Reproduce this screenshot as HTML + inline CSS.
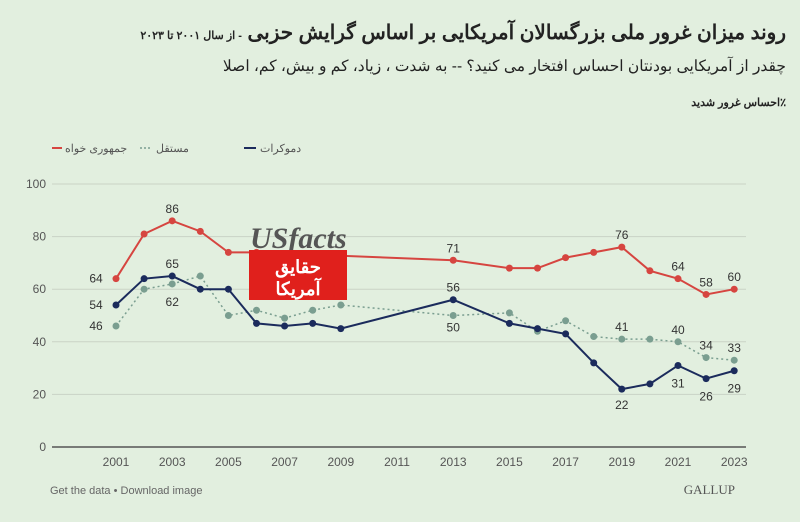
<!DOCTYPE html>
<html><head><meta charset="utf-8">
<style>
body{margin:0;width:800px;height:522px;background:#e2efdf;overflow:hidden;font-family:"Liberation Sans","Noto Sans CJK SC",sans-serif;position:relative}
.t{position:absolute;right:14px;direction:rtl;white-space:nowrap;color:#222}
</style></head><body>
<div class="t" style="top:20px;font-size:20px;font-weight:bold;letter-spacing:-0.3px">روند میزان غرور ملی بزرگسالان آمریکایی بر اساس گرایش حزبی <span style="font-size:11px">- از سال ۲۰۰۱ تا ۲۰۲۳</span></div>
<div class="t" style="top:57px;font-size:15.5px;letter-spacing:-0.2px">چقدر از آمریکایی بودنتان احساس افتخار می کنید؟ -- به شدت ، زیاد، کم و بیش، کم، اصلا</div>
<div class="t" style="top:96px;font-size:11px;font-weight:bold">٪احساس غرور شدید</div>
<svg id="s" width="800" height="522" style="position:absolute;left:0;top:0"></svg>
<script>
var s='';
function X(y){return 116+(y-2001)*28.1}
function Y(v){return 447-v*2.63}
for(var v=20;v<=100;v+=20){s+='<line x1="52" x2="746" y1="'+Y(v)+'" y2="'+Y(v)+'" stroke="#c9d3c6" stroke-width="1"/>';}
s+='<line x1="52" x2="746" y1="447" y2="447" stroke="#555" stroke-width="1.5"/>';
for(var v=0;v<=100;v+=20){s+='<text x="46" y="'+(Y(v)+4)+'" font-size="12" fill="#555" text-anchor="end">'+v+'</text>';}
for(var y=2001;y<=2023;y+=2){s+='<text x="'+X(y)+'" y="466" font-size="12" fill="#555" text-anchor="middle">'+y+'</text>';}
var R=[[2001,64],[2002,81],[2003,86],[2004,82],[2005,74],[2006,74],[2013,71],[2015,68],[2016,68],[2017,72],[2018,74],[2019,76],[2020,67],[2021,64],[2022,58],[2023,60]];
var D=[[2001,54],[2002,64],[2003,65],[2004,60],[2005,60],[2006,47],[2007,46],[2008,47],[2009,45],[2013,56],[2015,47],[2016,45],[2017,43],[2018,32],[2019,22],[2020,24],[2021,31],[2022,26],[2023,29]];
var I=[[2001,46],[2002,60],[2003,62],[2004,65],[2005,50],[2006,52],[2007,49],[2008,52],[2009,54],[2013,50],[2015,51],[2016,44],[2017,48],[2018,42],[2019,41],[2020,41],[2021,40],[2022,34],[2023,33]];
function ser(d,c,dash){var p=d.map(function(a){return X(a[0])+','+Y(a[1])}).join(' ');
s+='<polyline points="'+p+'" fill="none" stroke="'+c+'" stroke-width="'+(dash?1.5:2)+'"'+(dash?' stroke-dasharray="2,3"':'')+'/>';
d.forEach(function(a){s+='<circle cx="'+X(a[0])+'" cy="'+Y(a[1])+'" r="3.5" fill="'+c+'"/>'});}
ser(I,'#7a9e90',1);ser(D,'#1b2b5c',0);ser(R,'#d64540',0);
var L=[[2001,64,-6],[2003,86,-8],[2013,71,-8],[2019,76,-8],[2021,64,-8],[2022,58,-8],[2023,60,-8],
[2001,54,4],[2003,65,-8],[2013,56,-8],
[2001,46,-40],[2003,62,22],[2013,50,16],[2019,41,-8],[2021,40,-8],[2022,34,-8],[2023,33,-8],
[2019,22,20],[2021,31,22],[2022,26,22],[2023,29,22]];
L.forEach(function(a){var dx=0,y=Y(a[1])+a[2];if(a[2]==4){dx=-20;y=Y(a[1])+4}if(a[2]==-6){dx=-20;y=Y(a[1])+4}if(a[2]==-40){dx=-20;y=Y(a[1])+4}
s+='<text x="'+(X(a[0])+dx)+'" y="'+y+'" font-size="12" fill="#333" text-anchor="middle">'+a[1]+'</text>'});
s+='<line x1="52" x2="62" y1="148" y2="148" stroke="#d64540" stroke-width="2"/><text x="65" y="152" font-size="11" fill="#555">جمهوری خواه</text>';
s+='<line x1="140" x2="152" y1="148" y2="148" stroke="#7a9e90" stroke-width="1.5" stroke-dasharray="2,2"/><text x="156" y="152" font-size="11" fill="#555">مستقل</text>';
s+='<line x1="244" x2="256" y1="148" y2="148" stroke="#1b2b5c" stroke-width="2"/><text x="260" y="152" font-size="11" fill="#555">دموکرات</text>';
s+='<text x="250" y="248" font-size="30" font-family="Liberation Serif" font-style="italic" font-weight="bold" fill="#555">USfacts</text>';
s+='<rect x="249" y="250" width="98" height="50" fill="#e0201c"/><text x="298" y="273" font-size="18" font-weight="bold" fill="#fff" text-anchor="middle">حقایق</text><text x="298" y="295" font-size="18" font-weight="bold" fill="#fff" text-anchor="middle">آمریکا</text>';
s+='<text x="50" y="494" font-size="11" fill="#666">Get the data • Download image</text><text x="735" y="494" font-size="13" font-family="Liberation Serif" fill="#555" text-anchor="end">GALLUP</text>';
document.getElementById('s').innerHTML=s;
</script>
</body></html>
